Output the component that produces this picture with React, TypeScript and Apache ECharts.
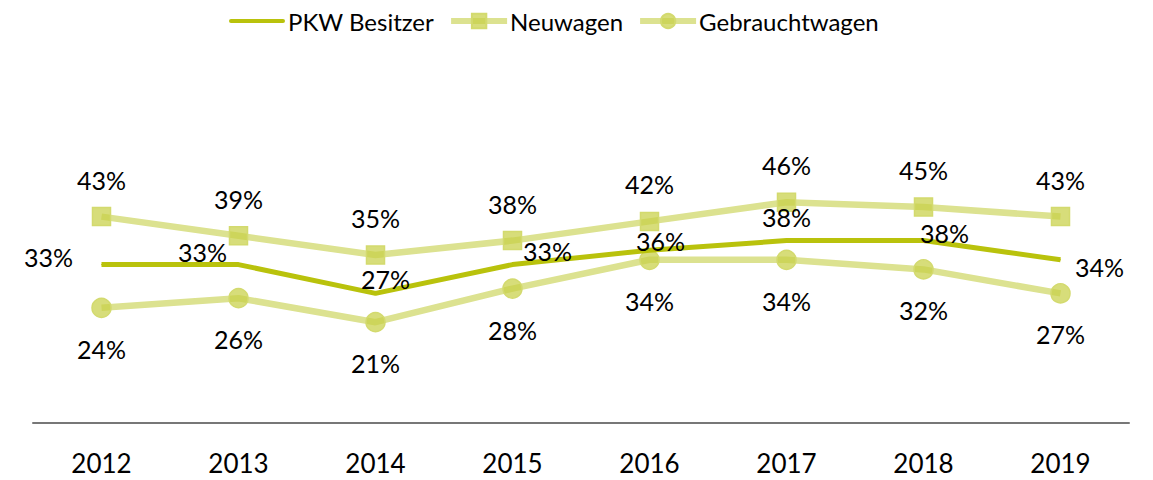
import React, { useEffect, useRef } from "react";
import * as echarts from "echarts";

const years = ["2012", "2013", "2014", "2015", "2016", "2017", "2018", "2019"];
const pkwBesitzer = [33, 33, 27, 33, 36, 38, 38, 34];
const neuwagen = [43, 39, 35, 38, 42, 46, 45, 43];
const gebrauchtwagen = [24, 26, 21, 28, 34, 34, 32, 27];

// label offsets (style) for the PKW series
const pkwLabelOffsets: [number, number][] = [
  [-53, -8], [-36, -13], [10, -14], [35, -14], [11, -9], [0, -24], [21, -8], [39, 7],
];

const FONT = "Lato, 'Open Sans', sans-serif";
const LINE_ICON = "path://M2,0H54A2,2 0 0 1 54,4H2A2,2 0 0 1 2,0Z";

export default function App() {
  const ref = useRef<HTMLDivElement>(null);
  useEffect(() => {
    if (!ref.current) return;
    const chart = echarts.init(ref.current, undefined, { renderer: "svg" });
    const labelBase = {
      show: true,
      formatter: "{c}%",
      fontSize: 25,
      color: "#000",
      fontFamily: FONT,
    };
    const lightLine = { color: "#dce290", width: 6.5 };
    chart.setOption({
      animation: false,
      textStyle: { fontFamily: FONT },
      legend: {
        top: 4,
        left: 224,
        itemWidth: 56,
        itemHeight: 18,
        itemGap: 14,
        textStyle: { fontSize: 24, color: "#000", fontFamily: FONT, padding: [0, 0, 0, -2] },
        data: [
          { name: "PKW Besitzer", icon: LINE_ICON },
          { name: "Neuwagen", lineStyle: { width: 6 } },
          { name: "Gebrauchtwagen", lineStyle: { width: 6 } },
        ],
      },
      grid: { left: 33, right: 24, top: 135, bottom: 57 },
      xAxis: {
        type: "category",
        data: years,
        axisLine: { lineStyle: { color: "#777", width: 2 } },
        axisTick: { show: false },
        axisLabel: {
          fontSize: 26,
          lineHeight: 26,
          color: "#000",
          margin: 27,
          fontFamily: FONT,
        },
      },
      yAxis: {
        type: "value",
        min: 0,
        max: 60,
        show: false,
        splitLine: { show: false },
      },
      series: [
        {
          name: "Neuwagen",
          type: "line",
          data: neuwagen,
          symbol: "rect",
          symbolSize: 18,
          lineStyle: lightLine,
          itemStyle: { color: "rgba(200,208,70,0.72)", borderColor: "#d3da6e", borderWidth: 1.5 },
          label: { ...labelBase, position: "inside", offset: [0, -37] },
          z: 2,
        },
        {
          name: "Gebrauchtwagen",
          type: "line",
          data: gebrauchtwagen,
          symbol: "circle",
          symbolSize: 19,
          lineStyle: lightLine,
          itemStyle: { color: "rgba(200,208,70,0.72)", borderColor: "#d3da6e", borderWidth: 1.5 },
          label: { ...labelBase, position: "inside", offset: [0, 41] },
          z: 2,
        },
        {
          name: "PKW Besitzer",
          type: "line",
          data: pkwBesitzer.map((v, i) => ({
            value: v,
            label: { ...labelBase, position: "inside", offset: pkwLabelOffsets[i] },
          })),
          symbol: "circle",
          symbolSize: 1,
          showSymbol: true,
          lineStyle: { color: "#b9c20c", width: 5 },
          itemStyle: { color: "#b9c20c" },
          label: { ...labelBase, position: "inside" },
          z: 3,
        },
      ],
    });
    return () => chart.dispose();
  }, []);
  return (
    <div
      ref={ref}
      style={{ position: "absolute", left: 0, top: 0, width: 1153, height: 480 }}
    />
  );
}
